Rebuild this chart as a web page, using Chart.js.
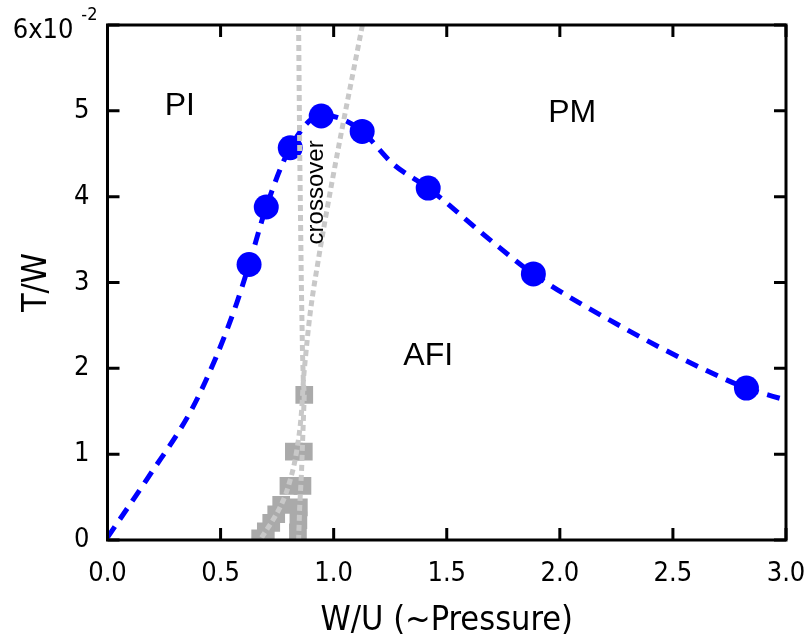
<!DOCTYPE html>
<html>
<head>
<meta charset="utf-8">
<script src="https://cdn.jsdelivr.net/npm/chart.js@4/dist/chart.umd.min.js"></script>
<style>
  html, body { margin: 0; padding: 0; background: #fff; }
  #wrap { width: 808px; height: 642px; }
</style>
</head>
<body>
<div id="wrap"><canvas id="phaseChart" width="808" height="642"></canvas></div>
<script>
// Neel temperature (blue circles) vs W/U
var tnX = [0.626, 0.702, 0.808, 0.945, 1.126, 1.418, 1.883, 2.825];
var tnY = [0.0321, 0.0388, 0.0457, 0.0494, 0.0476, 0.0410, 0.0310, 0.0177];

// smooth guide curve through the Neel points
var fitX = [0.0, 0.18, 0.37, 0.48, 0.57, 0.626, 0.702, 0.808, 0.945, 1.03, 1.126, 1.263, 1.418, 1.69, 1.883, 2.29, 2.62, 2.825, 3.0];
var fitY = [0.0003, 0.0073, 0.0151, 0.0213, 0.0275, 0.0321, 0.0388, 0.0457, 0.0495, 0.0491, 0.0476, 0.0438, 0.0410, 0.0350, 0.0310, 0.0246, 0.0201, 0.0177, 0.0163];

// Mott transition points (gray squares)
var mottX = [0.870, 0.824, 0.868, 0.800, 0.862, 0.768, 0.846, 0.746, 0.844, 0.724, 0.842, 0.700, 0.675];
var mottY = [0.0169, 0.0103, 0.0103, 0.0063, 0.0063, 0.0041, 0.0038, 0.0030, 0.0023, 0.0020, 0.0009, 0.0010, 0.0002];

// crossover lines
var crossAX = [0.845, 0.850, 0.857, 0.862, 0.866, 0.870, 0.864, 0.858, 0.850, 0.845];
var crossAY = [0.0600, 0.0450, 0.0300, 0.0220, 0.0185, 0.0169, 0.0125, 0.0080, 0.0040, 0.0000];
var crossBX = [1.127, 0.994, 0.932, 0.896, 0.874, 0.866, 0.858, 0.836, 0.800, 0.768, 0.675];
var crossBY = [0.0600, 0.0419, 0.0326, 0.0264, 0.0209, 0.0185, 0.0150, 0.0103, 0.0063, 0.0041, 0.0000];

var xTicks = [0, 0.5, 1.0, 1.5, 2.0, 2.5, 3.0];
var yTicks = [0, 0.01, 0.02, 0.03, 0.04, 0.05, 0.06];

// region labels placed in data coordinates
var regionLabels = [
  { text: 'PI', x: 0.32, y: 0.0505 },
  { text: 'PM', x: 2.055, y: 0.0497 },
  { text: 'AFI', x: 1.418, y: 0.0214 }
];

function pts(xs, ys) {
  return xs.map(function(x, i) { return { x: x, y: ys[i] }; });
}

var narrow = '"DejaVu Sans Condensed", "Liberation Sans", sans-serif';
var plain = '"Liberation Sans", Arial, sans-serif';

// frame, inward ticks, superscript label and text annotations
var framePlugin = {
  id: 'frame',
  afterDatasetsDraw: function(chart) {
    var ctx = chart.ctx;
    var a = chart.chartArea;
    var xs = chart.scales.x, ys = chart.scales.y;
    ctx.save();
    ctx.strokeStyle = '#000';
    ctx.lineWidth = 3;
    ctx.strokeRect(a.left, a.top, a.right - a.left, a.bottom - a.top);
    var len = 12;
    ctx.beginPath();
    xTicks.forEach(function(v) {
      var px = xs.getPixelForValue(v);
      ctx.moveTo(px, a.bottom); ctx.lineTo(px, a.bottom - len);
      ctx.moveTo(px, a.top); ctx.lineTo(px, a.top + len);
    });
    yTicks.forEach(function(v) {
      var py = ys.getPixelForValue(v);
      ctx.moveTo(a.left, py); ctx.lineTo(a.left + len, py);
      ctx.moveTo(a.right, py); ctx.lineTo(a.right - len, py);
    });
    ctx.stroke();

    // top y label with exponent
    var topY = ys.getPixelForValue(0.06);
    ctx.fillStyle = '#000';
    ctx.textBaseline = 'middle';
    ctx.textAlign = 'right';
    ctx.font = '18px ' + narrow;
    ctx.fillText('-2', a.left - 10, topY - 10);
    ctx.font = '27px ' + narrow;
    ctx.fillText('6x10', a.left - 34, topY + 6);

    ctx.font = '32px ' + plain;
    ctx.textAlign = 'center';
    regionLabels.forEach(function(l) {
      ctx.fillText(l.text, xs.getPixelForValue(l.x), ys.getPixelForValue(l.y));
    });

    ctx.translate(xs.getPixelForValue(0.923), ys.getPixelForValue(0.0405));
    ctx.rotate(-Math.PI / 2);
    ctx.font = '24px ' + plain;
    ctx.fillText('crossover', 0, 0);
    ctx.restore();
  }
};

new Chart(document.getElementById('phaseChart').getContext('2d'), {
  type: 'scatter',
  data: {
    datasets: [
      {
        label: 'crossover A',
        data: pts(crossAX, crossAY),
        showLine: true,
        borderColor: '#c8c8c8',
        borderWidth: 5,
        borderDash: [6, 4],
        pointRadius: 0
      },
      {
        label: 'crossover B',
        data: pts(crossBX, crossBY),
        showLine: true,
        borderColor: '#c8c8c8',
        borderWidth: 5,
        borderDash: [6, 4],
        cubicInterpolationMode: 'monotone',
        pointRadius: 0
      },
      {
        label: 'Mott',
        data: pts(mottX, mottY),
        showLine: false,
        pointStyle: 'rect',
        pointRadius: 12.5,
        backgroundColor: '#aaaaaa',
        borderWidth: 0
      },
      {
        label: 'fit',
        data: pts(fitX, fitY),
        showLine: true,
        borderColor: '#0000ff',
        borderWidth: 5,
        borderDash: [13, 9],
        cubicInterpolationMode: 'monotone',
        pointRadius: 0
      },
      {
        label: 'TN',
        data: pts(tnX, tnY),
        showLine: false,
        pointRadius: 12.5,
        backgroundColor: '#0000ff',
        borderWidth: 0
      }
    ]
  },
  options: {
    responsive: false,
    animation: false,
    layout: { padding: { top: 25, right: 22, left: 0, bottom: 0 } },
    plugins: {
      legend: { display: false },
      tooltip: { enabled: false }
    },
    scales: {
      x: {
        type: 'linear',
        min: 0, max: 3,
        afterBuildTicks: function(s) { s.ticks = xTicks.map(function(v) { return { value: v }; }); },
        afterFit: function(s) { s.height = 102; s.paddingLeft = 0; s.paddingRight = 0; },
        grid: { display: false },
        border: { display: false },
        ticks: {
          padding: 10,
          color: '#000',
          font: { family: narrow, size: 27 },
          callback: function(v) { return v.toFixed(1); }
        },
        title: {
          display: true,
          text: 'W/U (~Pressure)',
          color: '#000',
          font: { family: narrow, size: 34, lineHeight: 1.0 },
          padding: { top: 0, bottom: 4 }
        }
      },
      y: {
        type: 'linear',
        min: 0, max: 0.06,
        afterBuildTicks: function(s) { s.ticks = yTicks.map(function(v) { return { value: v }; }); },
        afterFit: function(s) { s.width = 107.5; s.paddingTop = 0; s.paddingBottom = 0; },
        grid: { display: false },
        border: { display: false },
        ticks: {
          padding: 10,
          color: '#000',
          font: { family: narrow, size: 27 },
          callback: function(v) { return v >= 0.06 ? '' : String(Math.round(v * 100)); }
        },
        title: {
          display: true,
          text: 'T/W',
          color: '#000',
          font: { family: narrow, size: 34, lineHeight: 1.0 },
          padding: { top: 20, bottom: 0 }
        }
      }
    }
  },
  plugins: [framePlugin]
});
</script>
</body>
</html>
